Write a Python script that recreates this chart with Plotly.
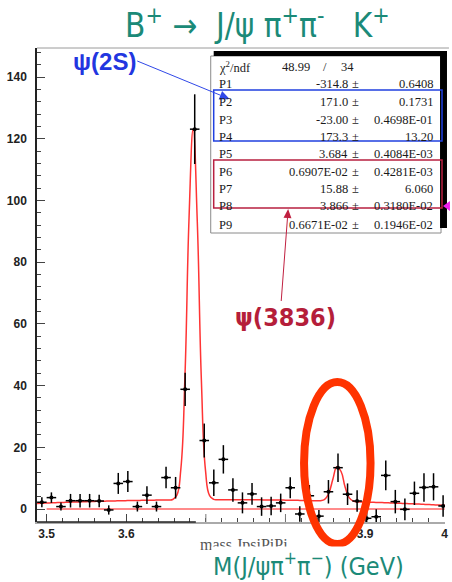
import numpy as np
import plotly.graph_objects as go

# ---- histogram: J/psi pi+ pi- invariant mass, 12 MeV bins ----
hist_lo = 3.488
bin_width = 0.012
counts = [2.2, 3.7, 0.8, 2.7, 2.7, 2.7, 2.6, -0.3, 8.3, 8.9, 0.8, 4.5, 0.8, 10.2,
          6.9, 38.8, 123.1, 22.2, 8.5, 16.1, 6.2, 2.0, 4.9, 0.8, 1.0, 2.0, 6.9,
          -1.6, 4.3, -2.3, 5.6, 13.4, 4.8, 2.6, -3.0, -2.5, 10.9, 2.4, -0.1, 5.1,
          7.0, 7.2, 1.0]
errors = [1.6, 1.7, 1.3, 2.2, 2.2, 2.2, 2.0, 1.5, 3.4, 3.4, 1.6, 2.9, 1.6, 3.5,
          3.5, 5.4, 11.3, 5.5, 4.3, 4.6, 3.8, 3.4, 3.5, 3.0, 3.0, 3.0, 3.4,
          2.5, 3.5, 2.0, 3.8, 4.6, 3.5, 3.5, 2.5, 2.4, 4.8, 3.8, 3.5, 3.8,
          4.6, 4.4, 3.5]
centers = [hist_lo + bin_width * (i + 0.5) for i in range(len(counts))]

# ---- fit result: pol2 + two Gaussians (event yields) ----
chi2_txt, ndf_txt = "48.99", "34"
par_names = ["P1", "P2", "P3", "P4", "P5", "P6", "P7", "P8", "P9"]
par_values = ["-314.8", "171.0", "-23.00", "173.3", "3.684", "0.6907E-02",
              "15.88", "3.866", "0.6671E-02"]
par_errors = ["0.6408", "0.1731", "0.4698E-01", "13.20", "0.4084E-03",
              "0.4281E-03", "6.060", "0.3180E-02", "0.1946E-02"]

# axis labelling
x_ticks = [3.5, 3.6, 3.9, 4.0]
x_ticktext = ["3.5", "3.6", "3.9", "4"]
y_ticks = [0, 20, 40, 60, 80, 100, 120, 140]

p = [float(v) for v in par_values]


def fit_model(x):
    x = np.asarray(x)
    bg = p[0] + p[1] * x + p[2] * x ** 2
    g1 = p[3] * bin_width / (np.sqrt(2 * np.pi) * p[5]) * np.exp(-0.5 * ((x - p[4]) / p[5]) ** 2)
    g2 = p[6] * bin_width / (np.sqrt(2 * np.pi) * p[8]) * np.exp(-0.5 * ((x - p[7]) / p[8]) ** 2)
    return bg + g1 + g2


fit_x = np.linspace(hist_lo, hist_lo + bin_width * len(counts), 101)
fit_y = fit_model(fit_x)

# ---- page geometry (pixels) ----
W, H = 452, 582
L, R, T, B = 37, 4, 48, 60
PW, PH = W - L - R, H - T - B


def X(px):
    return (px - L) / PW


def Y(py):
    return (H - B - py) / PH


def arrow(tail, tip, color, width=1.0, head_len=10.0, head_w=4.0):
    """Straight pointer with a filled triangular head, in page pixels."""
    (x0, y0), (x1, y1) = tail, tip
    dx, dy = x1 - x0, y1 - y0
    n = np.hypot(dx, dy)
    ux, uy = dx / n, dy / n
    bx, by = x1 - ux * head_len, y1 - uy * head_len
    lx, ly = bx - uy * head_w, by + ux * head_w
    rx, ry = bx + uy * head_w, by - ux * head_w
    return [
        dict(type="line", xref="paper", yref="paper", x0=X(x0), y0=Y(y0), x1=X(bx), y1=Y(by),
             line=dict(color=color, width=width)),
        dict(type="path", xref="paper", yref="paper",
             path=f"M {X(x1)},{Y(y1)} L {X(lx)},{Y(ly)} L {X(rx)},{Y(ry)} Z",
             fillcolor=color, line=dict(width=0)),
    ]


teal = "#1b8a78"
narrow = "Liberation Sans Narrow, DejaVu Sans Condensed, Liberation Sans, sans-serif"

fig = go.Figure()

fig.add_trace(go.Scatter(
    x=[3.5, 4.0], y=[0, 0], mode="lines",
    line=dict(color="#ff6464", width=1.5), hoverinfo="skip", showlegend=False))

fig.add_trace(go.Scatter(
    x=fit_x, y=fit_y, mode="lines",
    line=dict(color="#ff3434", width=1.5, shape="spline", smoothing=1.3),
    hoverinfo="skip", showlegend=False))

fig.add_trace(go.Scatter(
    x=centers, y=counts, mode="markers",
    marker=dict(color="black", size=4),
    error_y=dict(type="data", array=errors, width=0, thickness=1.5, color="black"),
    error_x=dict(type="constant", value=bin_width / 2, width=0, thickness=1.5, color="black"),
    showlegend=False))

shapes = []
# frame top edge and dark part of the x axis line
shapes.append(dict(type="line", xref="paper", yref="paper", x0=X(37), x1=X(452),
                   y0=Y(48), y1=Y(48), line=dict(color="#9a9a9a", width=1)))
shapes.append(dict(type="line", xref="paper", yref="paper", x0=X(37), x1=X(197),
                   y0=0, y1=0, line=dict(color="#222", width=1.5)))
# unlabelled major ticks at 3.7 and 3.8
for xv in (3.7, 3.8):
    shapes.append(dict(type="line", xref="x", yref="paper", x0=xv, x1=xv,
                       y0=0, y1=8 / PH, line=dict(color="#777", width=1)))

# fit statistics box with its shadow
shapes.append(dict(type="rect", xref="paper", yref="paper", x0=X(212), x1=X(444),
                   y0=Y(233), y1=Y(56), fillcolor="white", line=dict(color="#8a8a8a", width=1)))
shapes.append(dict(type="rect", xref="paper", yref="paper", x0=X(215), x1=X(450),
                   y0=Y(56), y1=Y(51), fillcolor="black", line=dict(width=0)))
shapes.append(dict(type="rect", xref="paper", yref="paper", x0=X(443), x1=X(450),
                   y0=Y(228), y1=Y(51), fillcolor="black", line=dict(width=0)))
# groups of parameters
shapes.append(dict(type="rect", xref="paper", yref="paper", x0=X(215), x1=X(445),
                   y0=Y(141), y1=Y(90), line=dict(color="#2040e0", width=1.5)))
shapes.append(dict(type="rect", xref="paper", yref="paper", x0=X(215), x1=X(445),
                   y0=Y(208), y1=Y(160), line=dict(color="#b82040", width=1.5)))
# small magenta pointer at the right edge
shapes.append(dict(type="path", xref="paper", yref="paper",
                   path=f"M {X(446)},{Y(206)} L {X(453)},{Y(201)} L {X(453)},{Y(211)} Z",
                   fillcolor="#f020f0", line=dict(width=0)))
# ellipse around the second peak
shapes.append(dict(type="circle", xref="paper", yref="paper", x0=X(306), x1=X(373),
                   y0=Y(544), y1=Y(382), line=dict(color="#ff3300", width=8)))
# pointers from the state labels to the parameter groups
shapes += arrow((138, 61), (231, 99), "#3048e8", width=1, head_len=10, head_w=4.5)
shapes += arrow((283, 301), (290, 209), "#c02040", width=1, head_len=9, head_w=4)

ann = []
serif = dict(family="Liberation Serif, Times New Roman, serif", size=12.5, color="#1a1a1a")
row_y = [83.5, 101.5, 119.5, 136.5, 153.5, 171.5, 189.0, 206.5, 225.0]

ann.append(dict(text="χ<sup>2</sup>/ndf", x=X(218), y=Y(66.5), xanchor="left"))
ann.append(dict(text=chi2_txt, x=X(314), y=Y(66.5), xanchor="right"))
ann.append(dict(text="/", x=X(327), y=Y(66.5), xanchor="center"))
ann.append(dict(text=ndf_txt, x=X(341), y=Y(66.5), xanchor="left"))
for name, val, err, yy in zip(par_names, par_values, par_errors, row_y):
    ann.append(dict(text=name, x=X(218), y=Y(yy), xanchor="left"))
    ann.append(dict(text=val, x=X(352), y=Y(yy), xanchor="right"))
    ann.append(dict(text="±", x=X(358), y=Y(yy), xanchor="center"))
    ann.append(dict(text=err, x=X(438), y=Y(yy), xanchor="right"))
for a in ann:
    a.update(xref="paper", yref="paper", yanchor="middle", showarrow=False, font=serif)

labels = [
    dict(text="B<sup>+</sup>\u00a0→\u00a0 J/ψ\u00a0π<sup>+</sup>π<sup>-</sup>\u00a0\u00a0 K<sup>+</sup>",
         x=X(259), y=Y(24), font=dict(family=narrow, size=33, color=teal)),
    dict(text="mass JpsiPiPi", x=X(246), y=Y(545),
         font=dict(family="Liberation Serif, serif", size=16, color="#555")),
    dict(text="M(J/ψπ<sup>+</sup>π<sup>−</sup>) (GeV)", x=X(310), y=Y(564), bgcolor="white",
         font=dict(family=narrow, size=25, color=teal)),
    dict(text="<b>ψ(2S)</b>", x=X(105), y=Y(62),
         font=dict(family="Liberation Sans, Arial, sans-serif", size=24, color="#2236e0")),
    dict(text="<b>ψ(3836)</b>", x=X(287), y=Y(318),
         font=dict(family=narrow, size=25, color="#b51e3a")),
]
for a in labels:
    a.update(xref="paper", yref="paper", xanchor="center", yanchor="middle", showarrow=False)
ann.extend(labels)

tickfont = dict(family="Liberation Sans, Arial, sans-serif", size=12, color="#222", weight="bold")

fig.update_layout(
    width=W, height=H,
    margin=dict(l=L, r=R, t=T, b=B, pad=0),
    paper_bgcolor="white", plot_bgcolor="white",
    shapes=shapes, annotations=ann,
    xaxis=dict(range=[3.4879, 4.0004], tickmode="array", tickvals=x_ticks, ticktext=x_ticktext,
               ticks="inside", ticklen=8, tickwidth=1, tickcolor="#444",
               minor=dict(tickmode="linear", tick0=3.5, dtick=0.02, ticks="inside",
                          ticklen=4, tickcolor="#444"),
               showline=True, linecolor="#aaaaaa", linewidth=1.5,
               showgrid=False, zeroline=False, tickfont=tickfont),
    yaxis=dict(range=[-4.2, 149.4], tickmode="array", tickvals=y_ticks,
               ticks="inside", ticklen=8, tickwidth=1, tickcolor="#444",
               minor=dict(tickmode="linear", tick0=0, dtick=4, ticks="inside",
                          ticklen=4, tickcolor="#444"),
               showline=True, linecolor="#222", linewidth=1.5,
               showgrid=False, zeroline=False, tickfont=tickfont, ticklabelstandoff=6),
)

fig.write_html("out.html")
